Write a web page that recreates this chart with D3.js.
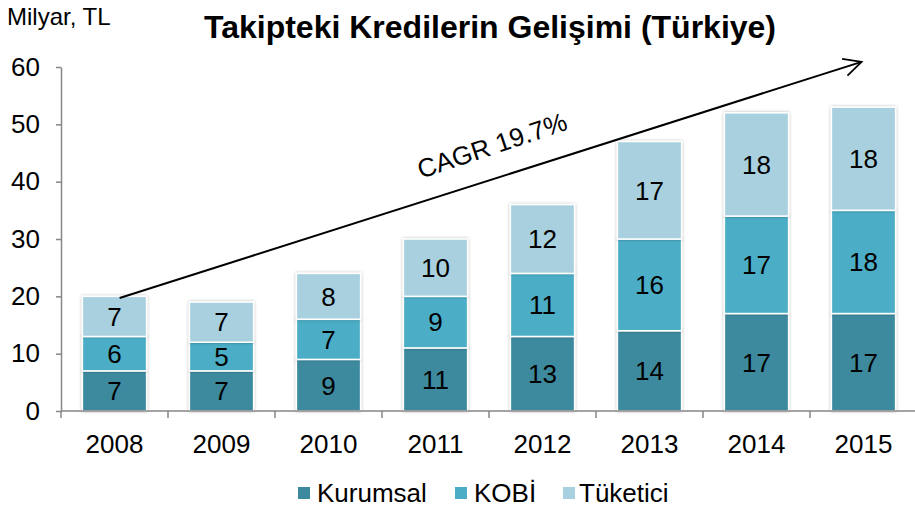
<!DOCTYPE html>
<html>
<head>
<meta charset="utf-8">
<script src="https://cdn.jsdelivr.net/npm/d3@7"></script>
<style>
    body { margin: 0; background: #fff; }
    text { font-family: "Liberation Sans", Arial, sans-serif; }
</style>
</head>
<body>
<div id="chart"></div>
<script>
const years = ["2008", "2009", "2010", "2011", "2012", "2013", "2014", "2015"];
const kurumsal = [7, 7, 9, 11, 13, 14, 17, 17];
const kobi = [6, 5, 7, 9, 11, 16, 17, 18];
const tuketici = [7, 7, 8, 10, 12, 17, 18, 18];
const yTicks = [0, 10, 20, 30, 40, 50, 60];
const keys = ["Kurumsal", "KOBİ", "Tüketici"];
const colors = ["#3d8a9f", "#4badc6", "#a8d0de"];

const W = 915, H = 511;
const margin = {top: 67, right: 0, bottom: 100, left: 61},
    width = 917 - margin.left,
    height = 411 - margin.top;

const data = years.map((y, i) => ({year: y, Kurumsal: kurumsal[i], "KOBİ": kobi[i], "Tüketici": tuketici[i]}));
const series = d3.stack().keys(keys)(data);

const svgRoot = d3.select("#chart").append("svg")
    .attr("width", W)
    .attr("height", H);

const defs = svgRoot.append("defs");
const shadow = defs.append("filter").attr("id", "shadow")
    .attr("x", "-10%").attr("y", "-10%").attr("width", "120%").attr("height", "120%");
shadow.append("feDropShadow")
    .attr("dx", 0).attr("dy", 0).attr("stdDeviation", 1.5)
    .attr("flood-color", "#000").attr("flood-opacity", 0.3);
defs.append("marker").attr("id", "arrow")
    .attr("viewBox", "0 0 20 20").attr("refX", 18).attr("refY", 10)
    .attr("markerWidth", 22).attr("markerHeight", 22)
    .attr("markerUnits", "userSpaceOnUse")
    .attr("orient", "auto")
    .append("path").attr("d", "M2,2 L18,10 L2,18")
    .attr("fill", "none").attr("stroke", "#000").attr("stroke-width", 1.6);

const svg = svgRoot.append("g")
    .attr("transform", "translate(" + margin.left + "," + margin.top + ")");

const x = d3.scaleBand().domain(years).range([0, width])
    .paddingInner(0.4).paddingOuter(0.2);
const y = d3.scaleLinear().domain([0, 60]).range([height, 0]);

// bars
const layer = svg.selectAll(".layer")
    .data(series)
    .enter().append("g")
    .attr("class", "layer")
    .attr("fill", (d, i) => colors[i]);

layer.selectAll("rect")
    .data(d => d)
    .enter().append("rect")
    .attr("x", d => x(d.data.year))
    .attr("y", d => y(d[1]))
    .attr("width", x.bandwidth())
    .attr("height", d => y(d[0]) - y(d[1]))
    .attr("stroke", "#fff")
    .attr("stroke-width", 1.5)
    .attr("filter", "url(#shadow)");

layer.selectAll("text")
    .data(d => d)
    .enter().append("text")
    .attr("x", d => x(d.data.year) + x.bandwidth() / 2)
    .attr("y", d => (y(d[0]) + y(d[1])) / 2)
    .attr("dy", "0.36em")
    .attr("text-anchor", "middle")
    .style("font-size", "26px")
    .attr("fill", "#000")
    .text(d => d[1] - d[0]);

// y axis
const yAxis = d3.axisLeft(y).tickValues(yTicks).tickSize(5).tickSizeOuter(0).tickPadding(16);
const gy = svg.append("g").call(yAxis);
gy.select(".domain").attr("stroke", "#868686").attr("stroke-width", 1.5);
gy.selectAll(".tick line").attr("stroke", "#868686").attr("stroke-width", 1.5);
gy.selectAll(".tick text").style("font-size", "26px").attr("fill", "#000");

// x axis with ticks between categories
const gx = svg.append("g").attr("transform", "translate(0," + height + ")");
gx.append("line").attr("x1", 0).attr("x2", width)
    .attr("stroke", "#868686").attr("stroke-width", 1.5);
const step = x.step();
gx.selectAll(".sep")
    .data(years)
    .enter().append("line")
    .attr("x1", d => x(d) - step * 0.2)
    .attr("x2", d => x(d) - step * 0.2)
    .attr("y1", 0).attr("y2", 7)
    .attr("stroke", "#868686").attr("stroke-width", 1.5);
gx.selectAll(".lbl")
    .data(years)
    .enter().append("text")
    .attr("x", d => x(d) + x.bandwidth() / 2)
    .attr("y", 42)
    .attr("text-anchor", "middle")
    .style("font-size", "26px")
    .attr("fill", "#000")
    .text(d => d);

// CAGR arrow
const x1 = x("2008") + x.bandwidth() * 0.58, y1 = y(19.7);
const x2 = x("2015") + x.bandwidth() * 0.47, y2 = y(60.9);
svg.append("line")
    .attr("x1", x1).attr("y1", y1).attr("x2", x2).attr("y2", y2)
    .attr("stroke", "#000").attr("stroke-width", 2)
    .attr("marker-end", "url(#arrow)");
svg.append("text")
    .attr("transform", "translate(" + 434 + "," + 87 + ") rotate(-18.5)")
    .attr("text-anchor", "middle")
    .style("font-size", "26px")
    .text("CAGR 19.7%");

// titles
svgRoot.append("text").attr("x", 490).attr("y", 38)
    .attr("text-anchor", "middle")
    .style("font-size", "32px").style("font-weight", "bold")
    .text("Takipteki Kredilerin Gelişimi (Türkiye)");
svgRoot.append("text").attr("x", 7).attr("y", 25)
    .style("font-size", "24px")
    .text("Milyar, TL");

// legend
const legend = svgRoot.append("g").attr("transform", "translate(298,493)");
const legX = [0, 157, 265];
keys.forEach((k, i) => {
    const g = legend.append("g").attr("transform", "translate(" + legX[i] + ",0)");
    g.append("rect").attr("x", 0).attr("y", -6).attr("width", 12).attr("height", 12).attr("fill", colors[i]);
    g.append("text").attr("x", i === 2 ? 16 : 19).attr("y", 0).attr("dy", "0.36em")
        .style("font-size", "26px").text(k);
});
</script>
</body>
</html>
